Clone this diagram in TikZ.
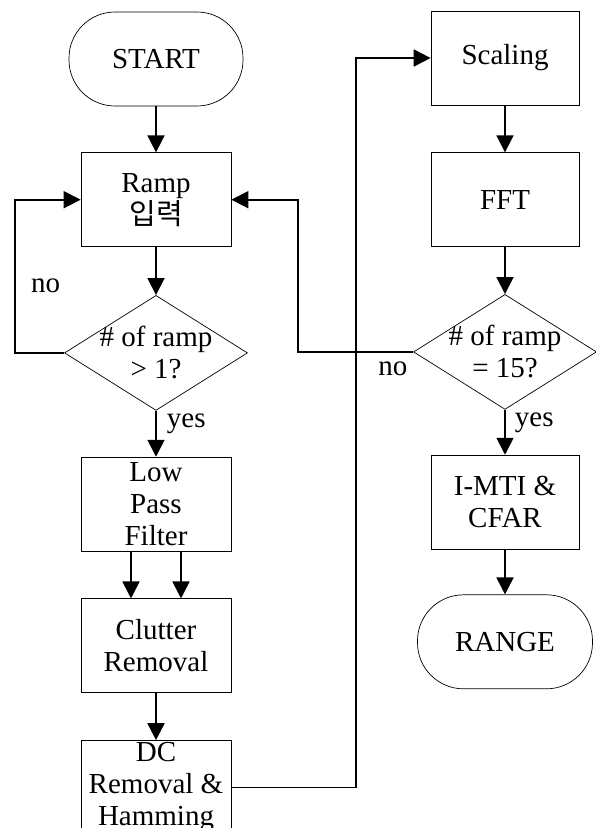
\documentclass[tikz,border=0pt]{standalone}
\usepackage{fontspec}
\setmainfont{Liberation Serif}
\newfontfamily\krfont{Noto Sans CJK KR}
\usetikzlibrary{arrows.meta, positioning, shapes.geometric}

\begin{document}
\begin{tikzpicture}[
  node distance=47pt,
  font=\fontsize{29}{32}\selectfont,
  process/.style={rectangle, draw=black, line width=0.7pt, minimum width=150pt, minimum height=94pt, inner sep=2pt, align=center},
  terminal/.style={rectangle, draw=black, line width=0.7pt, rounded corners=46pt, minimum width=174pt, minimum height=94pt, align=center},
  decision/.style={diamond, draw=black, line width=0.7pt, minimum width=183pt, minimum height=115pt, inner sep=0pt},
  arrow/.style={-{Triangle[length=17pt,width=17pt]}, line width=1.8pt},
  tag/.style={inner sep=1pt}
]
\useasboundingbox (0pt,0pt) rectangle (596pt,-828pt);

% left column
\node[terminal] (start) at (156pt,-59pt) {START};
\node[process, below=46pt of start] (ramp) {Ramp\\{\krfont 입력}};
\node[decision, below=48pt of ramp, label={[align=center]center:{\# of ramp\\> 1?}}] (chk1) {};
\node[process, below=46pt of chk1] (lpf) {Low\\Pass\\Filter};
\node[process, below=of lpf] (clutter) {Clutter\\Removal};
\node[process, below=of clutter] (dc) {DC\\Removal \&\\Hamming};

% right column
\node[process, minimum width=148pt] (scale) at (505pt,-58pt) {Scaling};
\node[process, minimum width=148pt, below=of scale] (fft) {FFT};
\node[decision, below=of fft, label={[align=center]center:{\# of ramp\\= 15?}}] (chk2) {};
\node[process, minimum width=148pt, below=45pt of chk2] (imti) {I-MTI \&\\CFAR};
\node[terminal, minimum width=175pt, below=45pt of imti] (range) {RANGE};

\draw[arrow] (start) -- (ramp);
\draw[arrow] (ramp) -- (chk1);
\draw[arrow] (chk1.west) -- ++(-49pt,0) |- node[tag, pos=0.22, right=14pt] (no1) {no} (ramp.west);
\draw[arrow] (chk1.south) node[tag, anchor=north west, xshift=9pt, yshift=-1pt] (yes1) {yes} -- (lpf);
\draw[arrow] ([xshift=-25pt]lpf.south) -- ([xshift=-25pt]clutter.north);
\draw[arrow] ([xshift=25pt]lpf.south) -- ([xshift=25pt]clutter.north);
\draw[arrow] (clutter) -- (dc);
\draw[arrow] (dc.east) -- ++(125pt,0) |- (scale.west);

\draw[arrow] (scale) -- (fft);
\draw[arrow] (fft) -- (chk2);
\draw[arrow] (chk2.west) node[tag, anchor=north east, xshift=-4pt, yshift=-8pt] (no2) {no} -- ++(-115pt,0) |- (ramp.east);
\draw[arrow] (chk2.south) node[tag, anchor=north west, xshift=8pt, yshift=-1pt] (yes2) {yes} -- (imti);
\draw[arrow] (imti) -- (range);

\end{tikzpicture}
\end{document}
